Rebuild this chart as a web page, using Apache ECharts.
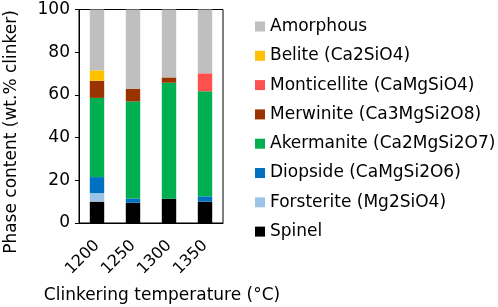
<!DOCTYPE html>
<html>
<head>
<meta charset="utf-8">
<script src="https://cdn.jsdelivr.net/npm/echarts@6/dist/echarts.min.js"></script>
<style>
html,body{margin:0;padding:0;background:#fff;}
#chart{width:498px;height:307px;}
</style>
</head>
<body>
<div id="chart"></div>
<script>
var categories = ['1200', '1250', '1300', '1350'];
var spinel       = [10, 9.5, 11.4, 10];
var forsterite   = [4, 0, 0, 0];
var diopside     = [7.5, 2, 0, 2.5];
var akermanite   = [37.1, 45.4, 54.3, 49.2];
var merwinite    = [8, 5.9, 2.5, 0];
var monticellite = [0, 0, 0, 8.4];
var belite       = [4.9, 0, 0, 0];
var amorphous    = [28.5, 37.2, 31.8, 29.9];
var yTicks = [0, 20, 40, 60, 80, 100];

var FONT = 'DejaVu Sans';
var seriesDefs = [
  ['Spinel', spinel, '#000000'],
  ['Forsterite (Mg2SiO4)', forsterite, '#9dc3e6'],
  ['Diopside (CaMgSi2O6)', diopside, '#0070c0'],
  ['Akermanite (Ca2MgSi2O7)', akermanite, '#00b050'],
  ['Merwinite (Ca3MgSi2O8)', merwinite, '#993300'],
  ['Monticellite (CaMgSiO4)', monticellite, '#ff5050'],
  ['Belite (Ca2SiO4)', belite, '#ffc000'],
  ['Amorphous', amorphous, '#bfbfbf']
];
var series = seriesDefs.map(function (d) {
  return {
    name: d[0], type: 'bar', stack: 'total', data: d[1],
    barWidth: '40%', itemStyle: { color: d[2] }, animation: false
  };
});
var legendOrder = seriesDefs.map(function (d) { return d[0]; }).reverse();

var chart = echarts.init(document.getElementById('chart'));
chart.setOption({
  animation: false,
  grid: { left: 79, right: 275, top: 9.5, bottom: 84, show: true, borderColor: '#000', borderWidth: 1 },
  legend: {
    data: legendOrder, orient: 'vertical', left: 255, top: 16.5, padding: 0,
    icon: 'rect', itemWidth: 10, itemHeight: 10, itemGap: 9.3,
    textStyle: { fontFamily: FONT, fontSize: 17, color: '#000', lineHeight: 20, padding: [0, 0, 0, 0] },
    selectedMode: false
  },
  xAxis: {
    type: 'category', data: categories,
    axisLine: { lineStyle: { color: '#000', width: 1 } },
    axisTick: { alignWithLabel: true, length: 4, lineStyle: { color: '#000' } },
    axisLabel: { rotate: 45, margin: 20, fontFamily: FONT, fontSize: 16, color: '#000' }
  },
  yAxis: {
    type: 'value', min: yTicks[0], max: yTicks[yTicks.length - 1], interval: 20,
    axisLine: { show: true, lineStyle: { color: '#000', width: 1 } },
    axisTick: { show: true, length: 4, lineStyle: { color: '#000' } },
    splitLine: { show: false },
    axisLabel: { margin: 9, fontFamily: FONT, fontSize: 17, color: '#000' }
  },
  graphic: [
    { type: 'text', x: 12, y: 132, rotation: Math.PI / 2,
      style: { text: 'Phase content (wt.% clinker)', font: '17px "DejaVu Sans"', fill: '#000', textAlign: 'center', textVerticalAlign: 'middle' } },
    { type: 'text', x: 162, y: 296,
      style: { text: 'Clinkering temperature (°C)', font: '17px "DejaVu Sans"', fill: '#000', textAlign: 'center', textVerticalAlign: 'middle' } }
  ],
  series: series
});
</script>
</body>
</html>
